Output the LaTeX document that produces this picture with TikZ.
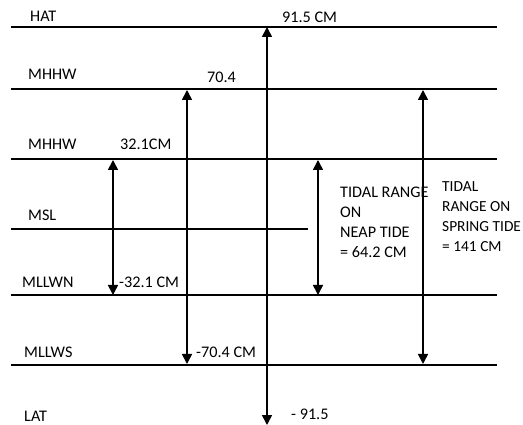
\documentclass[tikz,border=0pt]{standalone}
\usepackage{fontspec}
\setmainfont{Carlito}
\usetikzlibrary{arrows.meta}
\tikzset{
  lvl/.style={line width=1.5pt},
  rng/.style={{Triangle[length=10pt, width=10pt]}-{Triangle[length=10pt, width=10pt]},
              line width=1.6pt},
  lbl/.style={anchor=base west, inner sep=0pt, align=left,
              font=\fontsize{16.2}{20.3}\selectfont},
}

\begin{document}
\begin{tikzpicture}[x=1pt, y=-1pt]
    \useasboundingbox (0,0) rectangle (523,425);
    % levels
    \coordinate (hatL) at (11,27);    \coordinate (hatR) at (497,27);
    \coordinate (mhwsL) at (11,89);   \coordinate (mhwsR) at (497,89);
    \coordinate (mhwnL) at (11,159);  \coordinate (mhwnR) at (497,159);
    \coordinate (mslL) at (11,229);   \coordinate (mslR) at (308,229);
    \coordinate (mlwnL) at (11,295);  \coordinate (mlwnR) at (497,295);
    \coordinate (mlwsL) at (11,365);  \coordinate (mlwsR) at (497,365);
    \draw[lvl] (hatL) -- (hatR);
    \draw[lvl] (mhwsL) -- (mhwsR);
    \draw[lvl] (mhwnL) -- (mhwnR);
    \draw[lvl] (mslL) -- (mslR);
    \draw[lvl] (mlwnL) -- (mlwnR);
    \draw[lvl] (mlwsL) -- (mlwsR);
    % names
    \node[lbl] (hat) at (30,22) {HAT};
    \node[lbl] (mhws) at (28,80) {MHHW};
    \node[lbl] (mhwn) at (28,150) {MHHW};
    \node[lbl] (msl) at (28,221) {MSL};
    \node[lbl] (mlwn) at (22,288) {MLLWN};
    \node[lbl] (mlws) at (24,357) {MLLWS};
    \node[lbl] (lat) at (24,421) {LAT};
    % values
    \node[lbl] (vhat) at (282,23) {91.5 CM};
    \node[lbl] (vmhws) at (207,83) {70.4};
    \node[lbl] (vmhwn) at (120,150) {32.1CM};
    \node[lbl] (vmlwn) at (119,288) {-32.1 CM};
    \node[lbl] (vmlws) at (196,357) {-70.4 CM};
    \node[lbl] (vlat) at (291,420) {- 91.5};
    % ranges
    \coordinate (r1t) at (267,27);  \coordinate (r1b) at (267,425);
    \coordinate (r2t) at (187,90);  \coordinate (r2b) at (187,364);
    \coordinate (r3t) at (113,160); \coordinate (r3b) at (113,295);
    \coordinate (r4t) at (318,160); \coordinate (r4b) at (318,295);
    \coordinate (r5t) at (423,90);  \coordinate (r5b) at (423,364);
    \draw[rng] (r1t) -- (r1b);
    \draw[rng] (r2t) -- (r2b);
    \draw[rng] (r3t) -- (r3b);
    \draw[rng] (r4t) -- (r4b);
    \draw[rng] (r5t) -- (r5b);
    \node[lbl] (neap) at (340,258) {TIDAL RANGE\\ON\\NEAP TIDE\\= 64.2 CM};
    \node[lbl, font=\fontsize{15.4}{20.3}\selectfont] (spring) at (442,252)
      {TIDAL\\RANGE ON\\SPRING TIDE\\= 141 CM};
  \end{tikzpicture}
\end{document}
